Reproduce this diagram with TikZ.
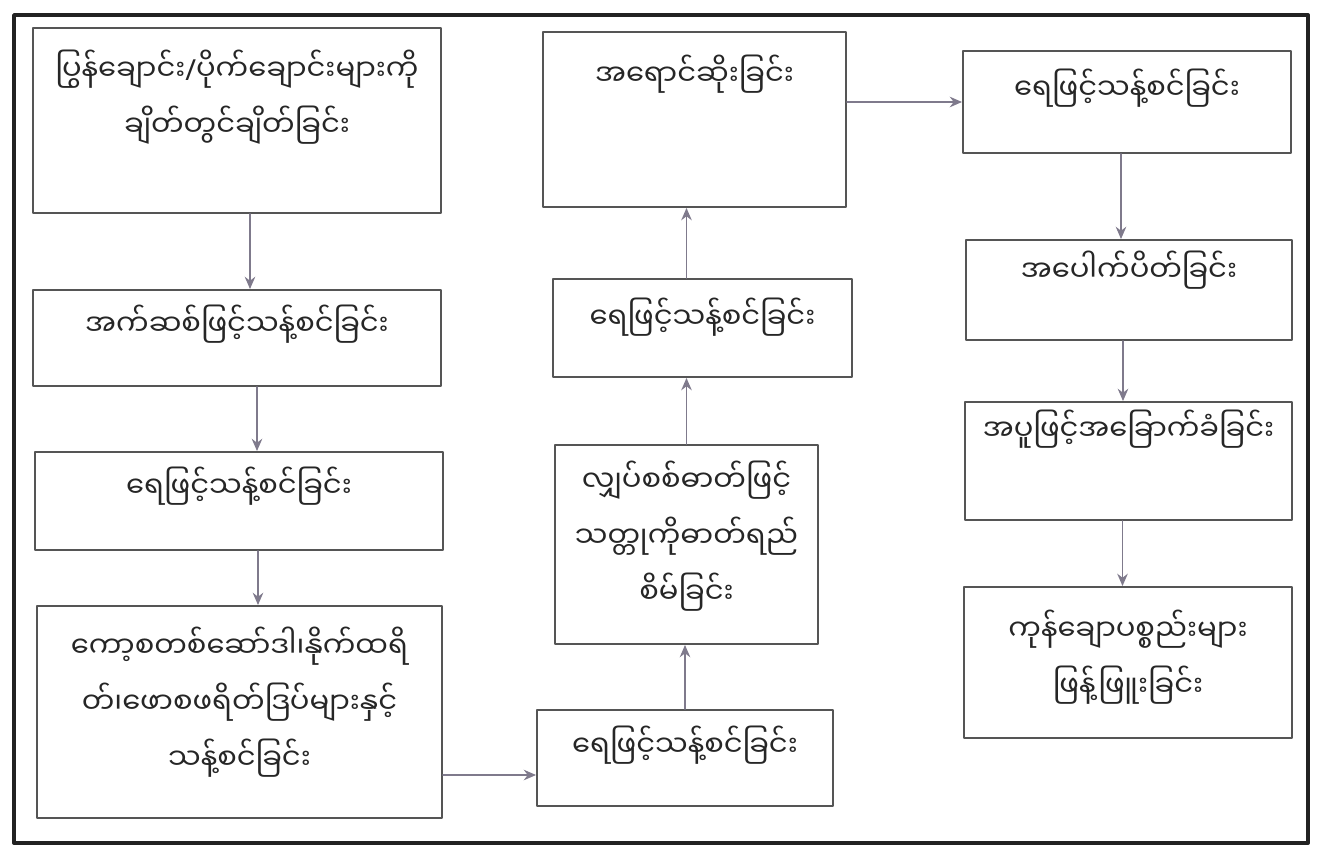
\documentclass[tikz,border=0pt]{standalone}
\usepackage{fontspec}
\newfontfamily\mmfont[Script=Myanmar]{Noto Sans Myanmar UI}
\newfontfamily\slashfont{Noto Sans}
\usetikzlibrary{arrows.meta,calc,positioning}
\definecolor{boxline}{HTML}{555555}
\definecolor{flowline}{HTML}{7F7A8C}
\definecolor{frameline}{HTML}{222222}

\begin{document}
\begin{tikzpicture}[line join=round,line cap=round,
	stepbox/.style={draw=boxline,line width=1.1pt,inner sep=0pt},
	steptext/.style={font={\mmfont\fontsize{16.5}{32}\selectfont},align=center,inner sep=0pt,text=black!85},
	flow/.style={draw=flowline,line width=0.9pt,-{Stealth[length=7pt,width=6pt]}}]
	\useasboundingbox (0,0) rectangle (26.38,-17.14);
	\draw[frameline,line width=2.2pt] (0.28,-0.30) rectangle (26.16,-16.86);
	% left column
	\node[stepbox,minimum width=8.16cm,minimum height=3.70cm] (b1) at (4.74,-2.41) {};
	\node[stepbox,minimum width=8.16cm,minimum height=1.92cm] (b2) at (4.74,-6.76) {};
	\node[stepbox,minimum width=8.16cm,minimum height=1.96cm] (b3) at (4.78,-10.02) {};
	\node[stepbox,minimum width=8.10cm,minimum height=4.24cm] (b4) at (4.79,-14.24) {};
	% middle column
	\node[stepbox,minimum width=6.06cm,minimum height=3.50cm] (b5) at (13.89,-2.39) {};
	\node[stepbox,minimum width=5.98cm,minimum height=1.96cm] (b6) at (14.05,-6.56) {};
	\node[stepbox,minimum width=5.26cm,minimum height=3.98cm] (b7) at (13.73,-10.89) {};
	\node[stepbox,minimum width=5.92cm,minimum height=1.92cm] (b8) at (13.70,-15.16) {};
	% right column
	\node[stepbox,minimum width=6.56cm,minimum height=2.04cm] (b9) at (22.54,-2.04) {};
	\node[stepbox,minimum width=6.52cm,minimum height=2.00cm] (b10) at (22.58,-5.80) {};
	\node[stepbox,minimum width=6.54cm,minimum height=2.36cm] (b11) at (22.57,-9.22) {};
	\node[stepbox,minimum width=6.56cm,minimum height=3.02cm] (b12) at (22.56,-13.25) {};
	% texts
	\node[steptext] (t1) at ([yshift=-1.40cm]b1.north) {ပြွန်ချောင်း{\slashfont/}ပိုက်ချောင်းများကို\\ချိတ်တွင်ချိတ်ခြင်း};
	\node[steptext] (t2) at ([yshift=-0.70cm]b2.north) {အက်ဆစ်ဖြင့်သန့်စင်ခြင်း};
	\node[steptext] (t3) at ([yshift=-0.70cm]b3.north) {ရေဖြင့်သန့်စင်ခြင်း};
	\node[steptext] (t4) at ([yshift=-1.94cm]b4.north) {ကော့စတစ်ဆော်ဒါ၊နိုက်ထရိ\\တ်၊ဖောစဖရိတ်ဒြပ်များနှင့်\\သန့်စင်ခြင်း};
	\node[steptext] (t5) at ([yshift=-0.86cm]b5.north) {အရောင်ဆိုးခြင်း};
	\node[steptext] (t6) at ([yshift=-0.78cm]b6.north) {ရေဖြင့်သန့်စင်ခြင်း};
	\node[steptext] (t7) at ([yshift=-1.84cm]b7.north) {လျှပ်စစ်ဓာတ်ဖြင့်\\သတ္တုကိုဓာတ်ရည်\\စိမ်ခြင်း};
	\node[steptext] (t8) at ([yshift=-0.72cm]b8.north) {ရေဖြင့်သန့်စင်ခြင်း};
	\node[steptext] (t9) at ([yshift=-0.76cm]b9.north) {ရေဖြင့်သန့်စင်ခြင်း};
	\node[steptext] (t10) at ([yshift=-0.62cm]b10.north) {အပေါက်ပိတ်ခြင်း};
	\node[steptext] (t11) at ([yshift=-0.56cm]b11.north) {အပူဖြင့်အခြောက်ခံခြင်း};
	\node[steptext] (t12) at ([yshift=-1.42cm]b12.north) {ကုန်ချောပစ္စည်းများ\\ဖြန့်ဖြူးခြင်း};
	% arrows
	\draw[flow] ([xshift=0.26cm]b1.south) -- ([xshift=0.26cm]b2.north);
	\draw[flow] ([xshift=0.40cm]b2.south) -- ([xshift=0.36cm]b3.north);
	\draw[flow] ([xshift=0.38cm]b3.south) -- ([xshift=0.37cm]b4.north);
	\draw[flow] ([yshift=-0.34cm]b8.west -| b4.east) -- ([yshift=-0.34cm]b8.west);
	\draw[flow] (b8.north) -- (b8.north |- b7.south);
	\draw[flow] (b7.north) -- (b7.north |- b6.south);
	\draw[flow] (b7.north |- b6.north) -- (b7.north |- b5.south);
	\draw[flow] (b9.west -| b5.east) -- (b9.west);
	\foreach \a/\b in {b9/b10,b10/b11,b11/b12}
		\draw[flow] ([xshift=-0.12cm]\a.south) -- ([xshift=-0.12cm]\a.south |- \b.north);
\end{tikzpicture}
\end{document}
